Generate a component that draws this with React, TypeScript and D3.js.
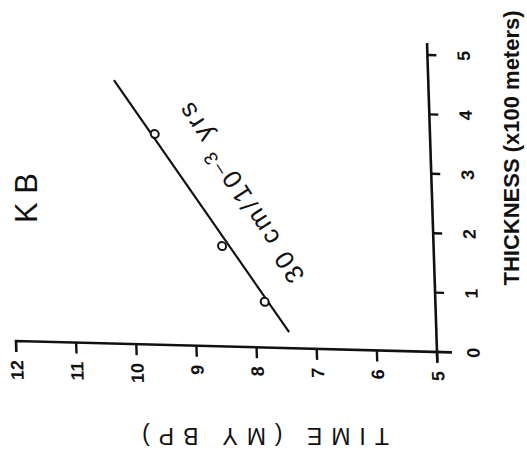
import React from "react";
import * as d3 from "d3";

const timeTicks = [12, 11, 10, 9, 8, 7, 6, 5];
const thicknessTicks = [0, 1, 2, 3, 4, 5];
const pointTimes = [9.58, 8.52, 7.84];
const pointThickness = [3.55, 1.69, 0.77];
const fitTimes = [10.23, 7.45];
const fitThickness = [4.44, 0.27];
const siteLabel = "K B";
const rateMain = "30 cm/10";
const rateExp = "\u20123";
const rateUnit = " yrs";
const timeTitle = "TIME (MY BP)";
const thicknessTitle = "THICKNESS (x100 meters)";

export default function App() {
  const W = 527;
  const H = 459;
  // local frame: origin at axes corner
  const x = d3.scaleLinear().domain([12, 5]).range([-421, 0]);
  const y = d3.scaleLinear().domain([0, 5]).range([0, -297]);
  const line = d3
    .line<number>()
    .x((_, i) => x(fitTimes[i]))
    .y((_, i) => y(fitThickness[i]));
  const font = "'Liberation Sans', Arial, sans-serif";
  return (
    <svg
      width={W}
      height={H}
      style={{ position: "absolute", left: 0, top: 0, background: "#fff" }}
    >
      <rect width={W} height={H} fill="#fff" />
      <g transform="matrix(1,0.0261,0.0323,1,437,352)" fontFamily={font}>
        {/* time axis */}
        <path
          d={`M${x(12)},11 L${x(12)},0 L15,0`}
          fill="none"
          stroke="#111"
          strokeWidth={2.6}
        />
        {timeTicks.slice(1).map((t) => (
          <line key={t} x1={x(t)} x2={x(t)} y1={0} y2={11} stroke="#111" strokeWidth={2.4} />
        ))}
        {timeTicks.map((t) => (
          <text
            key={t}
            transform={`translate(${x(t)},${19}) rotate(-90)`}
            textAnchor="end"
            dy="0.36em"
            fontSize={18}
            fontWeight="bold"
            fill="#111"
          >
            {t}
          </text>
        ))}
        {/* thickness axis */}
        <line x1={0} x2={0} y1={10} y2={y(5) - 12} stroke="#111" strokeWidth={2.6} />
        {thicknessTicks.slice(1).map((t) => (
          <line key={t} x1={0} x2={9} y1={y(t)} y2={y(t)} stroke="#111" strokeWidth={2.4} />
        ))}
        {thicknessTicks.map((t) => (
          <text
            key={t}
            transform={`translate(${36},${y(t)}) rotate(-90)`}
            textAnchor="middle"
            dy="0.36em"
            fontSize={18}
            fontWeight="bold"
            fill="#111"
          >
            {t}
          </text>
        ))}
        {/* fit line */}
        <path d={line(fitTimes) || ""} fill="none" stroke="#111" strokeWidth={2.2} />
        {pointTimes.map((t, i) => (
          <circle
            key={i}
            cx={x(t)}
            cy={y(pointThickness[i])}
            r={4}
            fill="#fff"
            stroke="#111"
            strokeWidth={2}
          />
        ))}
      </g>
      {/* titles */}
      <text
        transform="translate(261,436) rotate(180)"
        textAnchor="middle"
        dy="0.36em"
        fontFamily={font}
        fontSize={23}
        letterSpacing={9}
        fill="#111"
      >
        {timeTitle}
      </text>
      <text
        transform="translate(511,148) rotate(-90)"
        textAnchor="middle"
        dy="0.36em"
        fontFamily={font}
        fontSize={22}
        fontWeight="bold"
        fill="#111"
      >
        {thicknessTitle}
      </text>
      <text
        transform="translate(26,198) rotate(-90)"
        textAnchor="middle"
        dy="0.36em"
        fontFamily={font}
        fontSize={31}
        fill="#111"
      >
        {siteLabel}
      </text>
      <text
        transform="translate(240,192) rotate(-123)"
        textAnchor="middle"
        dy="0.36em"
        fontFamily={font}
        fontSize={26}
        letterSpacing={3}
        fill="#111"
      >
        {rateMain}
        <tspan dy={-9} fontSize={19}>
          {rateExp}
        </tspan>
        <tspan dy={9}>{rateUnit}</tspan>
      </text>
    </svg>
  );
}
